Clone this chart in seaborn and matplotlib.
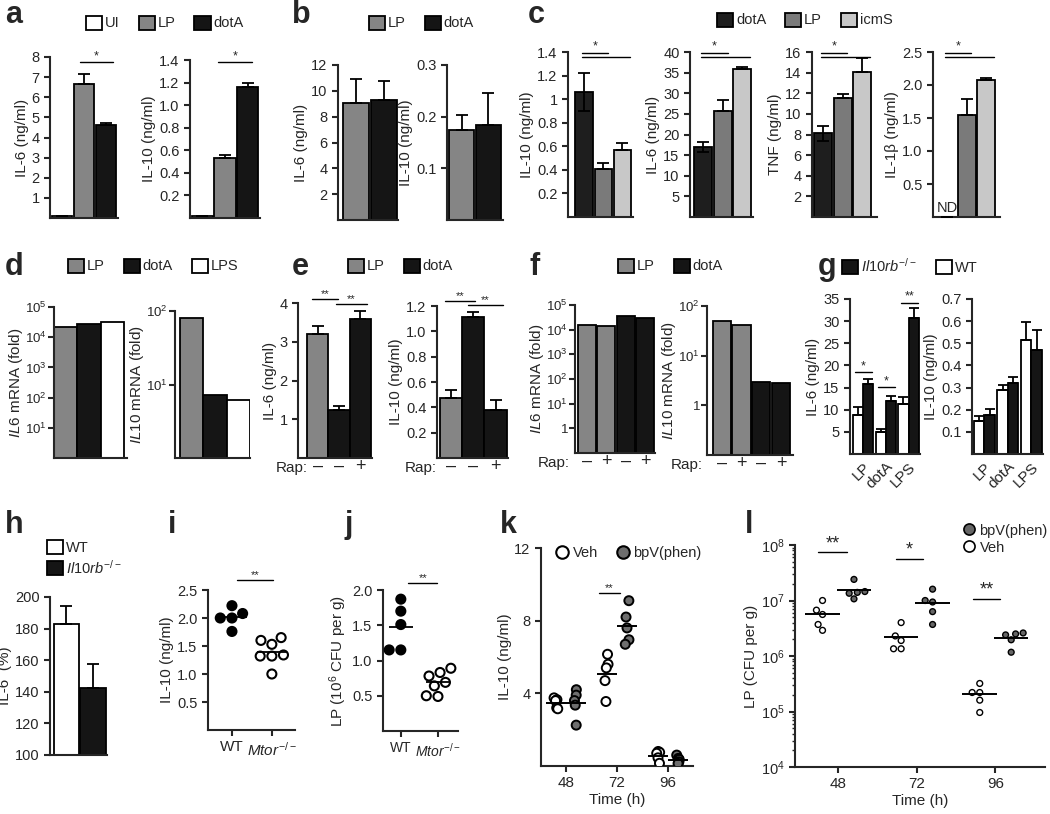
import numpy as np
import pandas as pd
import matplotlib
matplotlib.use('Agg')
import matplotlib.pyplot as plt
from matplotlib.patches import Patch
from matplotlib.lines import Line2D
from matplotlib.ticker import LogLocator, NullLocator, NullFormatter
import seaborn as sns

# ---------------- values ----------------
# a
a_groups = ['UI', 'LP', 'dotA']
a_il6 = [0.1, 6.65, 4.6]
a_il6_err = [0, 0.5, 0.12]
a_il10 = [0.02, 0.53, 1.16]
a_il10_err = [0, 0.03, 0.04]
# b
b_groups = ['LP', 'dotA']
b_il6 = [9.05, 9.3]
b_il6_err = [1.9, 1.5]
b_il10 = [0.175, 0.183]
b_il10_err = [0.028, 0.062]
# c
c_groups = ['dotA', 'LP', 'icmS']
c_il10 = [1.06, 0.41, 0.57]
c_il10_err = [0.16, 0.05, 0.06]
c_il6 = [17.0, 25.6, 36.0]
c_il6_err = [1.2, 2.8, 0.3]
c_tnf = [8.1, 11.5, 14.1]
c_tnf_err = [0.7, 0.4, 1.3]
c_il1b = [0, 1.55, 2.08]
c_il1b_err = [0, 0.24, 0.03]
# d
d_groups = ['LP', 'dotA', 'LPS']
d_il6 = [2.1e4, 2.7e4, 3.1e4]
d_il10 = [80, 7.2, 6.1]
# e
e_groups = ['LP', 'dotA', 'dotA+Rap']
e_rap = ['\u2013', '\u2013', '+']
e_il6 = [3.2, 1.25, 3.6]
e_il6_err = [0.2, 0.08, 0.2]
e_il10 = [0.47, 1.11, 0.38]
e_il10_err = [0.07, 0.04, 0.08]
# f
f_groups = ['LP', 'LP+Rap', 'dotA', 'dotA+Rap']
f_rap = ['\u2013', '+', '\u2013', '+']
f_il6 = [1.6e4, 1.35e4, 3.7e4, 3.1e4]
f_il10 = [49, 41, 2.95, 2.8]
# g
g_stim = ['LP', 'dotA', 'LPS']
g_il6_wt = [8.9, 5.0, 11.2]
g_il6_wt_err = [1.7, 0.7, 1.6]
g_il6_ko = [15.9, 12.0, 30.8]
g_il6_ko_err = [1.0, 1.0, 2.1]
g_il10_wt = [0.151, 0.287, 0.516]
g_il10_wt_err = [0.02, 0.025, 0.08]
g_il10_ko = [0.178, 0.322, 0.469]
g_il10_ko_err = [0.025, 0.024, 0.092]
# h
h_groups = ['WT', 'KO']
h_il6 = [182.7, 142.7]
h_il6_err = [11.4, 14.6]
# i
i_wt = [2.0, 2.22, 2.08, 1.76, 2.0]
i_mtor = [1.65, 1.60, 1.53, 1.32, 1.32, 1.34, 1.0]
# j
j_wt = [1.87, 1.70, 1.51, 1.15, 1.15]
j_mtor = [0.89, 0.83, 0.78, 0.69, 0.64, 0.50, 0.49]
# k
k_times = ['48', '72', '96']
k_veh = [[3.75, 3.65, 3.6, 3.2, 3.15], [6.15, 5.6, 5.4, 4.7, 3.55], [0.8, 0.75, 0.7, 0.45, 0.15]]
k_bpv = [[4.2, 3.9, 3.6, 3.35, 2.25], [9.1, 8.2, 7.6, 6.95, 6.7], [0.6, 0.42, 0.36, 0.23, 0.14]]
# l
l_times = ['48', '72', '96']
l_veh = [[1.0e7, 6.7e6, 5.6e6, 3.7e6, 2.9e6], [4.0e6, 2.3e6, 1.9e6, 1.35e6, 1.35e6],
         [3.2e5, 2.2e5, 2.2e5, 1.6e5, 9.6e4]]
l_bpv = [[2.4e7, 1.45e7, 1.4e7, 1.35e7, 1.07e7], [1.6e7, 9.4e6, 1.0e7, 6.3e6, 3.7e6],
         [2.6e6, 2.4e6, 2.5e6, 1.96e6, 1.17e6]]

GRAY = '#858585'
BLACK = '#151515'
KO = '$\\mathit{Il10rb}^{-/-}$'
MTOR = '$\\mathit{Mtor}^{-/-}$'

sns.set_style('ticks')
plt.rcParams['font.family'] = ['Liberation Sans', 'DejaVu Sans']
plt.rcParams.update({
    'mathtext.fontset': 'custom',
    'mathtext.rm': 'Liberation Sans',
    'mathtext.it': 'Liberation Sans:italic',
    'mathtext.bf': 'Liberation Sans:bold',
    'font.size': 10,
    'axes.linewidth': 1.5,
    'xtick.major.width': 1.5, 'ytick.major.width': 1.5,
    'xtick.major.size': 4, 'ytick.major.size': 4,
    'xtick.labelsize': 10.5, 'ytick.labelsize': 10.5,
    'axes.labelsize': 11,
    'axes.labelpad': 2,
})
np.random.seed(7)  # only for the horizontal jitter of the dots in panel k

W, H = 1050, 814
fig = plt.figure(figsize=(W / 100, H / 100), dpi=100)


def add_ax(box):
    l, t, r, b = box
    return fig.add_axes([l / W, 1 - b / H, (r - l) / W, (b - t) / H])


def bar_panel(box, names, vals, colors, ylim, yticks, ylabel, errs=None, low=None,
              xlim=None, width=0.95, yticklabels=None, log=False):
    ax = add_ax(box)
    sns.barplot(x=names, y=vals, hue=names, palette=dict(zip(names, colors)), legend=False,
                width=width, saturation=1, edgecolor='black', linewidth=1.3, ax=ax)
    if errs is not None:
        if low is None:
            low = [0] * len(vals)
        ax.errorbar(np.arange(len(vals)), vals, yerr=[low, errs], fmt='none', ecolor='black',
                    elinewidth=1.3, capsize=4, capthick=1.3, zorder=3)
    if log:
        ax.set_yscale('log')
        ax.yaxis.set_minor_locator(NullLocator())
        ax.tick_params(axis='y', labelsize=9.5, pad=1)
    ax.set_ylim(ylim)
    if yticklabels is None:
        ax.set_yticks(yticks)
    else:
        ax.set_yticks(yticks, labels=yticklabels)
    ax.set_ylabel(ylabel, labelpad=0 if log else 2)
    ax.set_xlabel('')
    ax.set_xticks([])
    if xlim:
        ax.set_xlim(xlim)
    sns.despine(ax=ax)
    return ax


def sig(ax, x0, x1, y, text, size=9):
    ax.plot([x0, x1], [y, y], color='black', lw=1, clip_on=False)
    ax.text((x0 + x1) / 2, y, text, ha='center', va='bottom', fontsize=size, clip_on=False)


def rap_labels(ax, labels, dx):
    ax.set_xticks(range(len(labels)), labels=labels, fontsize=13)
    ax.tick_params(axis='x', length=0, pad=0)
    ax.annotate('Rap:', xy=(0, 0), xycoords='axes fraction', xytext=(dx, -3),
                textcoords='offset pixels', ha='right', va='top', fontsize=11)


def legend(handles, labels, x, y, ncol=None, **kw):
    opts = dict(frameon=False, borderpad=0, borderaxespad=0, handlelength=1.1,
                handleheight=1.1, handletextpad=0.2, columnspacing=1.3, fontsize=10.5)
    opts.update(kw)
    fig.legend(handles, labels, loc='center left', bbox_to_anchor=(x / W, 1 - y / H),
               ncol=ncol or len(handles), **opts)


def box(color):
    return Patch(facecolor=color, edgecolor='black', linewidth=1.3)


def letter(x, y, s):
    fig.text(x / W, 1 - y / H, s, fontsize=22, fontweight='bold', ha='left', va='baseline')


# ---------------- row 1 ----------------
a_cols = ['white', GRAY, BLACK]
ax = bar_panel((50, 57, 118, 218), a_groups, a_il6, a_cols, (0, 8), range(1, 9),
               'IL-6 (ng/ml)', errs=a_il6_err, xlim=(-0.55, 2.55))
sig(ax, 0.82, 2.33, 7.75, '*')
ax = bar_panel((190, 60, 260, 218), a_groups, a_il10, a_cols, (0, 1.4),
               [0.2, 0.4, 0.6, 0.8, 1.0, 1.2, 1.4], 'IL-10 (ng/ml)', errs=a_il10_err,
               xlim=(-0.55, 2.55))
sig(ax, 0.69, 2.2, 1.38, '*')
legend([box(c) for c in a_cols], a_groups, 86, 23)
letter(5, 23, 'a')

b_cols = [GRAY, BLACK]
bar_panel((338, 65, 398, 220), b_groups, b_il6, b_cols, (0, 12), range(2, 13, 2),
          'IL-6 (ng/ml)', errs=b_il6_err, xlim=(-0.65, 1.5))
bar_panel((447, 65, 503, 220), b_groups, b_il10, b_cols, (0, 0.3), [0.1, 0.2, 0.3],
          'IL-10 (ng/ml)', errs=b_il10_err, xlim=(-0.55, 1.55))
legend([box(c) for c in b_cols], b_groups, 369, 23)
letter(292, 23, 'b')

c_cols = ['#1e1e1e', '#7a7a7a', '#c8c8c8']
c_specs = [
    ((568, 52, 633, 217), c_il10, c_il10_err, (0, 1.4), [0.2, 0.4, 0.6, 0.8, 1.0, 1.2, 1.4],
     ['0.2', '0.4', '0.6', '0.8', '1', '1.2', '1.4'], 'IL-10 (ng/ml)', (-0.85, 2.55)),
    ((690, 52, 753, 217), c_il6, c_il6_err, (0, 40), range(5, 41, 5), None,
     'IL-6 (ng/ml)', (-0.69, 2.54)),
    ((812, 52, 877, 217), c_tnf, c_tnf_err, (0, 16), range(2, 17, 2), None,
     'TNF (ng/ml)', (-0.56, 2.75)),
    ((933, 52, 1000, 217), c_il1b, c_il1b_err, (0, 2.5), [0.5, 1.0, 1.5, 2.0, 2.5], None,
     'IL-1\u03b2 (ng/ml)', (-0.72, 2.7)),
]
for bx, vals, errs, ylim, ticks, tlabels, ylab, xlim in c_specs:
    low = [errs[0], 0, 0]
    ax = bar_panel(bx, c_groups, vals, c_cols, ylim, ticks, ylab, errs=errs, low=low,
                   xlim=xlim, width=0.92, yticklabels=tlabels)
    top = ylim[1]
    sig(ax, -0.12, 1.24, top * 0.995, '*')
    ax.plot([-0.12, 2.39], [top * 0.972] * 2, color='black', lw=1, clip_on=False)
ax.text(0, 0.03, 'ND', ha='center', va='bottom', fontsize=10.5)
legend([box(c) for c in c_cols], c_groups, 717, 20)
letter(528, 23, 'c')

# ---------------- row 2 ----------------
d_cols = [GRAY, BLACK, 'white']
bar_panel((54, 307, 127, 458), d_groups, d_il6, d_cols, (1, 1e5), [10, 1e2, 1e3, 1e4, 1e5],
          '$\\mathit{IL6}$ mRNA (fold)', xlim=(-0.52, 2.65), width=1.0, log=True,
          yticklabels=['$10^1$', '$10^2$', '$10^3$', '$10^4$', '$10^5$'])
bar_panel((175, 311, 250, 458), d_groups, d_il10, d_cols, (1, 100), [10, 100],
          '$\\mathit{IL10}$ mRNA (fold)', xlim=(-0.7, 2.5), width=1.0, log=True,
          yticklabels=['$10^1$', '$10^2$'])
legend([box(c) for c in d_cols], d_groups, 68, 266)
letter(5, 275, 'd')

e_cols = [GRAY, BLACK, BLACK]
ax = bar_panel((298, 303, 372, 458), e_groups, e_il6, e_cols, (0, 4), [1, 2, 3, 4],
               'IL-6 (ng/ml)', errs=e_il6_err, xlim=(-0.93, 2.55), width=1.0)
rap_labels(ax, e_rap, 10)
sig(ax, -0.27, 0.95, 4.1, '**', 8)
sig(ax, 0.86, 2.31, 3.97, '**', 8)
ax = bar_panel((437, 306, 508, 458), e_groups, e_il10, e_cols, (0, 1.2),
               [0.2, 0.4, 0.6, 0.8, 1.0, 1.2], 'IL-10 (ng/ml)', errs=e_il10_err,
               xlim=(-0.62, 2.55), width=1.0)
rap_labels(ax, e_rap, 0)
sig(ax, -0.26, 1.08, 1.24, '**', 8)
sig(ax, 0.76, 2.32, 1.21, '**', 8)
legend([box(GRAY), box(BLACK)], ['LP', 'dotA'], 348, 266)
letter(292, 275, 'e')

f_cols = [GRAY, GRAY, BLACK, BLACK]
ax = bar_panel((575, 305, 655, 453), f_groups, f_il6, f_cols, (0.1, 1e5),
               [1, 10, 1e2, 1e3, 1e4, 1e5], '$\\mathit{IL6}$ mRNA (fold)',
               xlim=(-0.6, 3.5), width=0.92, log=True,
               yticklabels=['1', '$10^1$', '$10^2$', '$10^3$', '$10^4$', '$10^5$'])
rap_labels(ax, f_rap, -5)
ax = bar_panel((707, 306, 793, 455), f_groups, f_il10, f_cols, (0.1, 100), [1, 10, 100],
               '$\\mathit{IL10}$ mRNA (fold)', xlim=(-0.74, 3.6), width=0.92, log=True,
               yticklabels=['1', '$10^1$', '$10^2$'])
rap_labels(ax, f_rap, -4)
legend([box(GRAY), box(BLACK)], ['LP', 'dotA'], 618, 266)
letter(530, 275, 'f')


def g_panel(bx, wt, wt_err, ko, ko_err, ylim, yticks, ylabel, xlim):
    ax = add_ax(bx)
    df = pd.DataFrame({'stim': g_stim * 2, 'geno': ['WT'] * 3 + ['KO'] * 3, 'value': wt + ko})
    sns.barplot(data=df, x='stim', y='value', hue='geno', hue_order=['WT', 'KO'],
                palette={'WT': 'white', 'KO': BLACK}, width=0.9, saturation=1,
                edgecolor='black', linewidth=1.3, legend=False, ax=ax)
    for gi, (vals, errs) in enumerate([(wt, wt_err), (ko, ko_err)]):
        xs = np.arange(len(g_stim)) + (gi - 0.5) * 0.45
        ax.errorbar(xs, vals, yerr=[[0] * len(vals), errs], fmt='none', ecolor='black',
                    elinewidth=1.3, capsize=3.5, capthick=1.3, zorder=3)
    ax.set_ylim(ylim)
    ax.set_yticks(yticks)
    ax.set_ylabel(ylabel)
    ax.set_xlabel('')
    ax.set_xlim(xlim)
    ax.set_xticks(range(3), labels=g_stim, rotation=45, ha='right', rotation_mode='anchor',
                  fontsize=11)
    ax.tick_params(axis='x', length=0, pad=4)
    sns.despine(ax=ax)
    return ax


ax = g_panel((850, 299, 920, 454), g_il6_wt, g_il6_wt_err, g_il6_ko, g_il6_ko_err,
             (0, 35), range(5, 36, 5), 'IL-6 (ng/ml)', (-0.57, 2.5))
sig(ax, -0.35, 0.4, 18.5, '*')
sig(ax, 0.65, 1.4, 15.1, '*')
sig(ax, 1.65, 2.4, 34.2, '**')
g_panel((972, 299, 1043, 454), g_il10_wt, g_il10_wt_err, g_il10_ko, g_il10_ko_err,
        (0, 0.7), [0.1, 0.2, 0.3, 0.4, 0.5, 0.6, 0.7], 'IL-10 (ng/ml)', (-0.53, 2.5))
legend([box(BLACK), box('white')], [KO, 'WT'], 842, 266)
letter(818, 275, 'g')

# ---------------- row 3 ----------------
bar_panel((50, 597, 107, 755), h_groups, h_il6, ['white', BLACK], (100, 200),
          range(100, 201, 20), 'IL-6  (%)', errs=h_il6_err, xlim=(-0.62, 1.53))
legend([box('white'), box(BLACK)], ['WT', KO], 47, 558, ncol=1, labelspacing=0.25)
letter(5, 533, 'h')


def dot_panel(bx, wt, mtor, ylim, yticks, ylabel, xlim, labels, half, xsize=11):
    ax = add_ax(bx)
    df = pd.DataFrame({'geno': ['WT'] * len(wt) + ['Mtor'] * len(mtor), 'value': wt + mtor})
    sns.swarmplot(data=df, x='geno', y='value', hue='geno', palette={'WT': 'black', 'Mtor': 'white'},
                  edgecolor='black', linewidth=1.5, size=6.5, legend=False, ax=ax)
    means = df.groupby('geno', sort=False)['value'].mean()
    for pos, m in enumerate(means):
        ax.hlines(m, pos - half, pos + half, color='black', lw=1.3, zorder=5)
    ax.set_ylim(ylim)
    ax.set_yticks(yticks)
    ax.set_ylabel(ylabel)
    ax.set_xlabel('')
    ax.set_xlim(xlim)
    ax.set_xticks([0, 1], labels=labels, fontsize=xsize)
    sns.despine(ax=ax)
    return ax


ax = dot_panel((208, 590, 295, 730), i_wt, i_mtor, (0, 2.5), [0.5, 1.0, 1.5, 2.0, 2.5],
               'IL-10 (ng/ml)', (-0.6, 1.58), ['WT', MTOR], 0.37)
sig(ax, 0.13, 1.03, 2.68, '**', 8)
letter(168, 533, 'i')

ax = dot_panel((383, 590, 458, 731), j_wt, j_mtor, (0, 2.0), [0.5, 1.0, 1.5, 2.0],
               'LP (10$^6$ CFU per g)', (-0.48, 1.54), ['WT', MTOR], 0.32, xsize=10)
sig(ax, 0.2, 0.98, 2.1, '**', 8)
letter(345, 533, 'j')


def time_df(times, veh, bpv):
    rows = []
    for t, v_list, b_list in zip(times, veh, bpv):
        rows += [(t, 'Veh', v) for v in v_list]
        rows += [(t, 'bpV(phen)', v) for v in b_list]
    return pd.DataFrame(rows, columns=['time', 'group', 'value'])


def time_panel(bx, df, colors, size, lw, half, log=False, jitter=None):
    ax = add_ax(bx)
    kw = dict(data=df, x='time', y='value', hue='group', hue_order=['Veh', 'bpV(phen)'],
              palette=colors, dodge=True, edgecolor='black', linewidth=lw, size=size,
              legend=False, ax=ax)
    if jitter is None:
        sns.swarmplot(log_scale=log or None, **kw)
    else:
        sns.stripplot(jitter=jitter, **kw)
    means = df.groupby(['time', 'group'], sort=False)['value'].mean()
    for ti, t in enumerate(df['time'].unique()):
        for gi, g in enumerate(['Veh', 'bpV(phen)']):
            x = ti + (gi - 0.5) * 0.4
            ax.hlines(means[(t, g)], x - half, x + half, color='black', lw=1.4, zorder=5)
    ax.set_xlabel('Time (h)')
    sns.despine(ax=ax)
    return ax


k_df = time_df(k_times, k_veh, k_bpv)
ax = time_panel((541, 548, 693, 766), k_df, {'Veh': 'white', 'bpV(phen)': '#6e6e6e'},
                6.5, 1.4, 0.2, jitter=0.08)
ax.set_ylim(0, 12)
ax.set_yticks([4, 8, 12])
ax.set_xlim(-0.49, 2.49)
ax.set_ylabel('IL-10 (ng/ml)')
ax.tick_params(axis='x', labelsize=11)
sig(ax, 0.65, 1.06, 9.5, '**', 8)
legend([Line2D([], [], marker='o', ls='', mfc='white', mec='black', mew=1.5, ms=9),
        Line2D([], [], marker='o', ls='', mfc='#6e6e6e', mec='black', mew=1.5, ms=9)],
       ['Veh', 'bpV(phen)'], 555, 553, handlelength=1.0, columnspacing=1.2)
letter(500, 533, 'k')

l_df = time_df(l_times, l_veh, l_bpv)
ax = time_panel((795, 545, 1045, 767), l_df, {'Veh': 'white', 'bpV(phen)': '#666666'},
                4.2, 1.0, 0.22, log=True)
ax.set_ylim(1e4, 1e8)
ax.set_yticks([1e4, 1e5, 1e6, 1e7, 1e8],
              labels=['$10^4$', '$10^5$', '$10^6$', '$10^7$', '$10^8$'])
ax.yaxis.set_minor_locator(LogLocator(base=10, subs=np.arange(2, 10)))
ax.yaxis.set_minor_formatter(NullFormatter())
ax.tick_params(axis='y', which='minor', length=2.5, width=1)
ax.set_xlim(-0.55, 2.63)
ax.set_ylabel('LP (CFU per g)')
ax.tick_params(axis='x', labelsize=11)
sig(ax, -0.26, 0.11, 7.4e7, '**', 13)
sig(ax, 0.73, 1.08, 5.6e7, '*', 13)
sig(ax, 1.71, 2.06, 1.07e7, '**', 13)
legend([Line2D([], [], marker='o', ls='', mfc='#666666', mec='black', mew=1.2, ms=8),
        Line2D([], [], marker='o', ls='', mfc='white', mec='black', mew=1.2, ms=8)],
       ['bpV(phen)', 'Veh'], 962, 539, ncol=1, handlelength=1.0, labelspacing=0.1)
letter(745, 533, 'l')

fig.savefig('out.png', dpi=100)
